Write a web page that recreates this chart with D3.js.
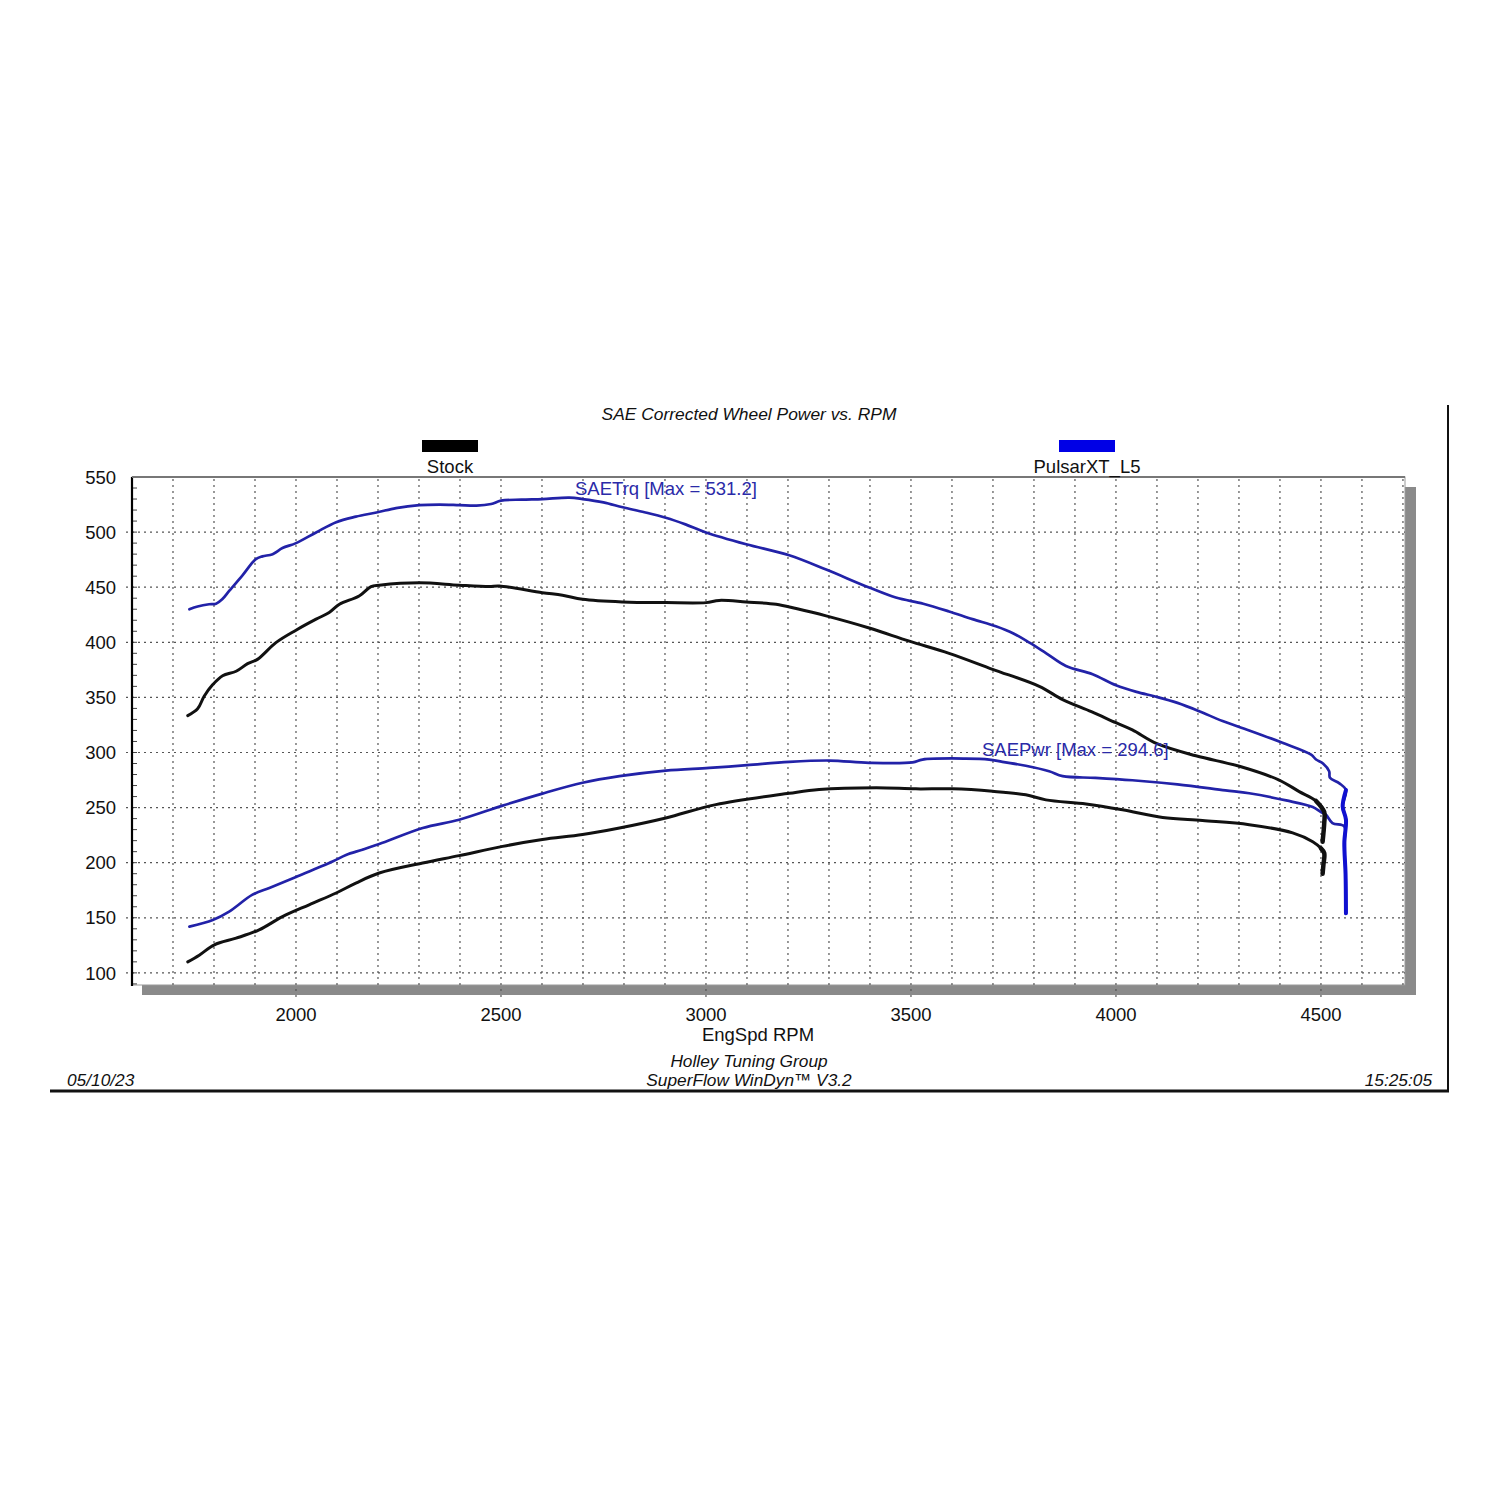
<!DOCTYPE html>
<html>
<head>
<meta charset="utf-8">
<script src="https://cdn.jsdelivr.net/npm/d3@7/dist/d3.min.js"></script>
<style>
  html, body { margin: 0; padding: 0; background: #fff; }
  svg { display: block; }
  text { font-family: "Liberation Sans", Arial, sans-serif; }
</style>
</head>
<body>
<svg id="chart" width="1500" height="1500"></svg>
<script>
// ---------------- DATA ----------------
const title = "SAE Corrected Wheel Power vs. RPM";
const xAxisLabel = "EngSpd RPM";
const legendNames = ["Stock", "PulsarXT_L5"];
const xTicks = [2000, 2500, 3000, 3500, 4000, 4500];
const yTicks = [100, 150, 200, 250, 300, 350, 400, 450, 500, 550];
const footerCenter = ["Holley Tuning Group", "SuperFlow WinDyn\u2122  V3.2"];
const footerDate = "05/10/23";
const footerTime = "15:25:05";
const torqueLabel = "SAETrq [Max = 531.2]";
const powerLabel = "SAEPwr [Max = 294.6]";

// [rpm, value]
const pulsarTorque = [
  [1740,430],[1760,432.5],[1788,434.5],[1805,435],[1820,439],[1837,446.6],[1870,461],[1902,475.5],
  [1918,478],[1943,480],[1967,485.5],[2000,490],[2049,499.7],[2098,509],[2146,514],[2199,518],
  [2244,521.8],[2301,524.5],[2350,525],[2398,524.5],[2440,524],[2476,525.5],[2500,528.5],[2550,529.5],
  [2601,530],[2667,531.2],[2699,530],[2750,527],[2797,522.5],[2850,518],[2902,513],[2950,507],[3000,499.7],
  [3098,489],[3203,479],[3293,466],[3398,449.7],[3463,440.6],[3530,435],[3593,428],[3650,421],[3707,414.5],
  [3750,408],[3789,399.7],[3830,390],[3878,378.5],[3943,371],[4000,361],[4050,355],[4098,350.6],
  [4150,345],[4203,337.5],[4260,328.5],[4325,320],[4406,308.8],[4476,298],[4488,293.6],[4505,290],
  [4520,283],[4522,277],[4545,272],[4561,266],[4553,251],[4561,239],[4557,218],[4560,190],[4561,154]
];
const pulsarPower = [
  [1740,142],[1797,148],[1837,155.6],[1894,171],[1935,177],[2000,187],[2089,201],[2122,207],
  [2162,211.8],[2211,218],[2309,231.5],[2398,239],[2504,251.8],[2601,262.7],[2699,272.5],[2789,278.5],
  [2902,283.6],[3008,286],[3100,288.5],[3203,291.5],[3301,292.7],[3398,290.6],[3504,291],[3528,293.6],
  [3634,294.5],[3691,293.6],[3723,291.5],[3780,288],[3837,283],[3870,278.5],[3950,277],[4040,274.8],
  [4150,271],[4267,265.6],[4325,263],[4415,256.5],[4480,250.5],[4500,246],[4512,243.6],[4528,236],
  [4557,233],[4558,220],[4558,205]
];
const stockTorque = [
  [1736,333.5],[1760,339.6],[1776,351],[1797,361.6],[1821,369.7],[1854,373.7],[1882,380.6],[1906,384.5],
  [1951,399.7],[2000,411],[2049,421],[2081,427],[2106,434.5],[2154,442],[2183,450.6],[2203,451.8],
  [2301,454],[2398,451.8],[2471,450.6],[2496,451],[2601,445],[2650,442.7],[2699,439],[2797,436.6],
  [2902,436],[3000,436],[3032,438],[3098,436.6],[3171,434.5],[3220,430.6],[3293,424],[3398,413],
  [3496,401],[3593,390],[3699,375.5],[3813,360],[3870,348],[3940,337],[4000,327],[4040,320.5],[4100,308],
  [4195,297],[4301,287.5],[4398,275],[4447,264.5],[4488,256],[4508,246],[4508,236],[4504,219]
];
const stockPower = [
  [1736,110],[1764,116],[1801,125.5],[1854,131.5],[1910,139],[1967,151],[2032,161.8],[2098,172.5],
  [2146,181.5],[2203,190.6],[2309,199.7],[2398,206.4],[2504,214.8],[2601,221],[2699,225.5],[2789,231.5],
  [2902,240.6],[3024,252.7],[3203,263],[3276,266.4],[3415,268],[3512,267],[3601,267],[3699,264.8],
  [3780,261.6],[3829,257],[3927,253.3],[4016,248],[4114,241],[4211,238.2],[4325,234.5],[4431,227],
  [4480,219],[4500,213],[4508,208.6],[4506,198],[4504,190]
];

// ---------------- LAYOUT ----------------
const svg = d3.select("#chart");
const L = 132, R = 1405, T = 477, B = 985;
const x = d3.scaleLinear().domain([1600, 4705]).range([L, R]);
const y = d3.scaleLinear().domain([89, 550]).range([B, T]);

const blue = "#2222a8", black = "#111";

// outer frame
svg.append("line").attr("x1", 1448).attr("x2", 1448).attr("y1", 405).attr("y2", 1092)
  .attr("stroke", "#111").attr("stroke-width", 2);
svg.append("line").attr("x1", 50).attr("x2", 1449).attr("y1", 1091).attr("y2", 1091)
  .attr("stroke", "#111").attr("stroke-width", 3);

// shadow
svg.append("rect").attr("x", L + 10).attr("y", T + 10).attr("width", R - L + 1).attr("height", B - T)
  .attr("fill", "#8a8a8a");
// plot area
svg.append("rect").attr("x", L).attr("y", T).attr("width", R - L).attr("height", B - T)
  .attr("fill", "#fff").attr("stroke", "#999").attr("stroke-width", 1);

// grid
const g = svg.append("g");
const vGrid = d3.range(1700, 4701, 100);
g.selectAll(".vg").data(vGrid).join("line")
  .attr("x1", d => x(d)).attr("x2", d => x(d))
  .attr("y1", T + 2).attr("y2", d => d % 500 === 0 ? B + 13 : B)
  .attr("stroke", "#555").attr("stroke-width", 1.2).attr("stroke-dasharray", "2,4");
const hGrid = d3.range(100, 501, 50);
g.selectAll(".hg").data(hGrid).join("line")
  .attr("x1", L - 6).attr("x2", R)
  .attr("y1", d => y(d)).attr("y2", d => y(d))
  .attr("stroke", "#555").attr("stroke-width", 1.2).attr("stroke-dasharray", "2,4");
// minor ticks on the left axis
g.selectAll(".mt").data(d3.range(90, 551, 10)).join("line")
  .attr("x1", L).attr("x2", L + 5)
  .attr("y1", d => y(d)).attr("y2", d => y(d))
  .attr("stroke", "#444").attr("stroke-width", 1);

// left axis line
svg.append("line").attr("x1", L).attr("x2", L).attr("y1", T).attr("y2", B + 1)
  .attr("stroke", "#000").attr("stroke-width", 2.2);
// top frame line
svg.append("line").attr("x1", L).attr("x2", R).attr("y1", T).attr("y2", T)
  .attr("stroke", "#777").attr("stroke-width", 2);

// axis labels
svg.selectAll(".yl").data(yTicks).join("text")
  .attr("x", 116).attr("y", d => y(d)).attr("dy", "0.36em")
  .attr("text-anchor", "end").attr("font-size", 18.5).attr("fill", "#111").text(d => d);
svg.selectAll(".xl").data(xTicks).join("text")
  .attr("x", d => x(d)).attr("y", 1014).attr("dy", "0.36em")
  .attr("text-anchor", "middle").attr("font-size", 18.5).attr("fill", "#111").text(d => d);
svg.append("text").attr("x", 758).attr("y", 1034).attr("dy", "0.36em")
  .attr("text-anchor", "middle").attr("font-size", 18.5).attr("fill", "#111").text(xAxisLabel);

// title
svg.append("text").attr("x", 749).attr("y", 414).attr("dy", "0.36em")
  .attr("text-anchor", "middle").attr("font-size", 17.4).attr("font-style", "italic")
  .attr("fill", "#111").text(title);

// legend
const legendX = [450, 1087];
const legendColors = ["#000", "#0000e6"];
legendNames.forEach((n, i) => {
  svg.append("rect").attr("x", legendX[i] - 28).attr("y", 440).attr("width", 56).attr("height", 12)
    .attr("fill", legendColors[i]);
  svg.append("text").attr("x", legendX[i]).attr("y", 466).attr("dy", "0.36em")
    .attr("text-anchor", "middle").attr("font-size", 18.5).attr("fill", "#111").text(n);
});

// curves
const line = d3.line().x(d => x(d[0])).y(d => y(d[1])).curve(d3.curveCatmullRom.alpha(0.5));
const plot = svg.append("g");
function drawSeries(data, color, w) {
  plot.append("path").datum(data).attr("d", line).attr("fill", "none")
    .attr("stroke", color).attr("stroke-width", w).attr("stroke-linejoin", "round").attr("stroke-linecap", "round");
}
drawSeries(stockPower, black, 3);
drawSeries(stockTorque, black, 3);
drawSeries(pulsarPower, blue, 2.7);
drawSeries(pulsarTorque, blue, 2.7);
// thicker deceleration tails
plot.append("path").datum(stockTorque.slice(-4)).attr("d", line).attr("fill", "none")
  .attr("stroke", black).attr("stroke-width", 4.5).attr("stroke-linecap", "round");
plot.append("path").datum(stockPower.slice(-4)).attr("d", line).attr("fill", "none")
  .attr("stroke", black).attr("stroke-width", 4.5).attr("stroke-linecap", "round");
plot.append("path").datum(pulsarTorque.slice(-6)).attr("d", line).attr("fill", "none")
  .attr("stroke", "#1010d0").attr("stroke-width", 4).attr("stroke-linecap", "round");

// series labels
svg.append("text").attr("x", 575).attr("y", 488).attr("dy", "0.36em")
  .attr("font-size", 18.5).attr("fill", "#2a2aa8").text(torqueLabel);
svg.append("text").attr("x", 982).attr("y", 749).attr("dy", "0.36em")
  .attr("font-size", 18.5).attr("fill", "#2a2aa8").text(powerLabel);

// footer
svg.append("text").attr("x", 749).attr("y", 1061).attr("dy", "0.36em")
  .attr("text-anchor", "middle").attr("font-size", 17.3).attr("font-style", "italic")
  .attr("fill", "#111").text(footerCenter[0]);
svg.append("text").attr("x", 749).attr("y", 1080).attr("dy", "0.36em")
  .attr("text-anchor", "middle").attr("font-size", 17.3).attr("font-style", "italic")
  .attr("fill", "#111").text(footerCenter[1]);
svg.append("text").attr("x", 67).attr("y", 1080).attr("dy", "0.36em")
  .attr("font-size", 17.3).attr("font-style", "italic").attr("fill", "#111").text(footerDate);
svg.append("text").attr("x", 1432).attr("y", 1080).attr("dy", "0.36em")
  .attr("text-anchor", "end").attr("font-size", 17.3).attr("font-style", "italic")
  .attr("fill", "#111").text(footerTime);
</script>
</body>
</html>
